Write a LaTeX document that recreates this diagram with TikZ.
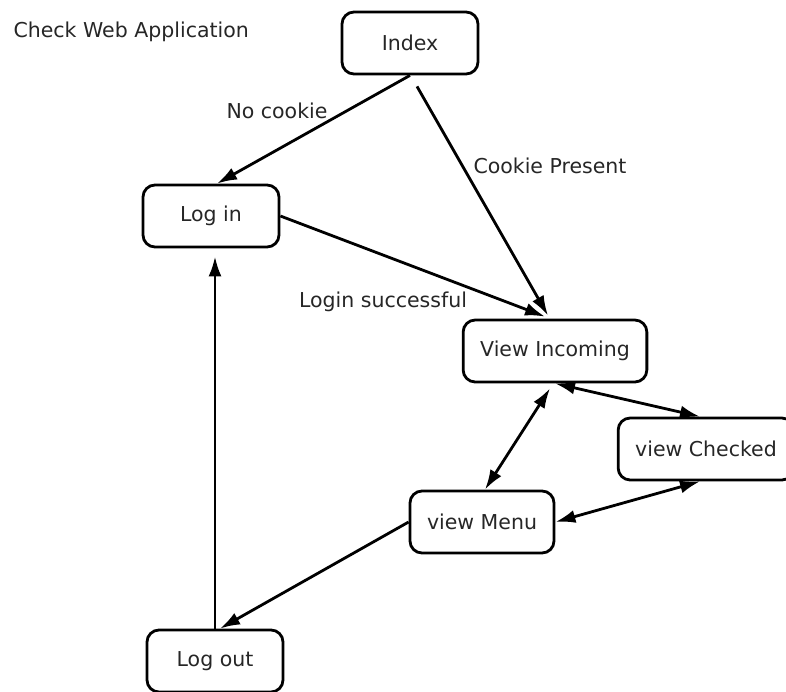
\documentclass[tikz,border=0pt]{standalone}
\usepackage{fontspec}
\setmainfont{DejaVu Sans}
\usepackage{tikz}
\usetikzlibrary{arrows.meta}
\tikzset{
	state/.style={draw, line width=2.8pt, rounded corners=12pt, inner xsep=17pt,
		minimum width=136pt, minimum height=62pt, font=\fontsize{20.5}{24}\selectfont, text=black!85},
	lbl/.style={font=\fontsize{20.5}{24}\selectfont, text=black!85},
	link/.style={line width=2.8pt, -{Latex[length=20pt,width=13pt]}},
	both/.style={line width=2.8pt, {Latex[length=20pt,width=13pt]}-{Latex[length=20pt,width=13pt]}}
}

\begin{document}
\begin{tikzpicture}[x=1pt, y=-1pt]

\useasboundingbox (0,0) rectangle (786,691);

\node[lbl, anchor=base west] (title) at (10,37) {Check Web Application};

\node[state] (index) at (410,43) {Index};
\node[state] (login) at (211,216) {Log in};
\node[state] (incoming) at (555,351) {View Incoming};
\node[state] (checked) at (706,449) {view Checked};
\node[state] (menu) at (482,522) {view Menu};
\node[state] (logout) at (215,661) {Log out};

\draw[link] (index.south) -- ([xshift=6pt]login.north);
\draw[link] ([xshift=7pt,yshift=-11pt]index.south) -- ([xshift=-7pt,yshift=3pt]incoming.north);
\draw[link] (login.east) -- ([xshift=-10pt,yshift=2pt]incoming.north);

\draw[both] (incoming.south) -- ([xshift=-6pt]checked.north);
\draw[both] ([xshift=-5pt,yshift=-5pt]incoming.south) -- ([xshift=3pt]menu.north);
\draw[both] ([xshift=-6pt]checked.south) -- (menu.east);

\draw[link] (menu.west) -- ([xshift=5pt]logout.north);
\draw[link] (logout.north) -- ([xshift=4pt,yshift=-8pt]login.south);

\node[lbl] (nocookie) at (277,111) {No cookie};
\node[lbl] (cookie) at (550,166) {Cookie Present};
\node[lbl] (success) at (383,302) {Login successful};

\end{tikzpicture}
\end{document}
